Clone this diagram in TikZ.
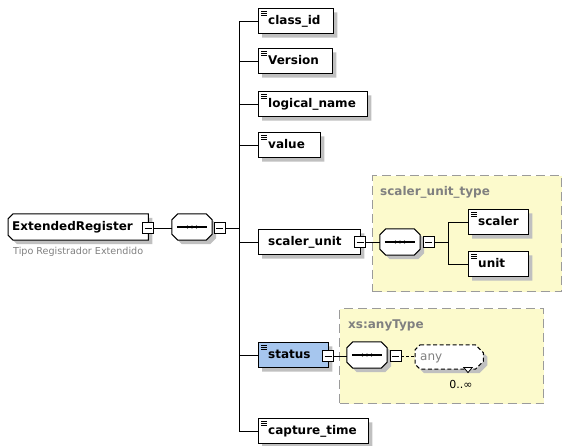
\documentclass[tikz,border=0pt]{standalone}
\usepackage{fontspec}
\setmainfont{DejaVu Sans}
\usetikzlibrary{shapes.geometric}

\definecolor{typefill}{RGB}{252,250,204}
\definecolor{typeline}{RGB}{155,155,155}
\definecolor{labelgray}{RGB}{128,128,128}
\definecolor{selfill}{RGB}{166,198,238}
\definecolor{shadowgray}{RGB}{192,192,192}

\pgfdeclarelayer{back}
\pgfdeclarelayer{frames}
\pgfsetlayers{back,frames,main}

% three short strokes in the top left corner of an element box
\newcommand{\elicon}[1]{%
  \foreach \dy in {3,5,7}
    \draw[line width=0.7pt] ([xshift=3pt,yshift=-\dy pt]#1.north west) -- ++(6pt,0);}
% the dotted bar inside a sequence compositor
\newcommand{\seqmark}[1]{%
  \draw[line width=1.1pt] ([xshift=5pt]#1.west) -- ([xshift=-5pt]#1.east);
  \foreach \dx in {-4.5,0,4.5}
    \fill ([xshift=\dx pt]#1.center) circle (1.6pt);}
% octagonal outline around node #1: left chamfer #2, right chamfer #3, moved by \ox,\oy
\def\ox{0pt}\def\oy{0pt}
\newcommand{\octpath}[3]{%
  ([xshift=\ox+#2,yshift=\oy]#1.north west) -- ([xshift=\ox-#3,yshift=\oy]#1.north east)
  -- ([xshift=\ox,yshift=\oy-#3]#1.north east) -- ([xshift=\ox,yshift=\oy+#3]#1.south east)
  -- ([xshift=\ox-#3,yshift=\oy]#1.south east) -- ([xshift=\ox+#2,yshift=\oy]#1.south west)
  -- ([xshift=\ox,yshift=\oy+#2]#1.south west) -- ([xshift=\ox,yshift=\oy-#2]#1.north west) -- cycle}
% shadowed frame for node #1 (style #2, chamfers #3 / #4)
\newcommand{\frameit}[4]{%
  \begin{pgfonlayer}{frames}
    \def\ox{4pt}\def\oy{-4pt}%
    \fill[shadowgray] \octpath{#1}{#3}{#4};
    \def\ox{0pt}\def\oy{0pt}%
    \path[#2] \octpath{#1}{#3}{#4};
  \end{pgfonlayer}}

\begin{document}
\begin{tikzpicture}[x=1pt,y=-1pt,line width=1pt,
  elem/.style={rectangle,anchor=west,minimum height=25pt,inner xsep=10pt,inner ysep=0pt,
    text height=9pt,text depth=3pt,font=\bfseries\fontsize{12}{14}\selectfont},
  box/.style={draw=black,fill=white,line width=1pt},
  selbox/.style={draw=black,fill=selfill,line width=1pt},
  anyframe/.style={draw=black,fill=white,line width=1pt,dash pattern=on 4pt off 2.5pt},
  seq/.style={rectangle,minimum width=40pt,minimum height=26pt,inner sep=0pt},
  minus/.style={rectangle,draw=black,fill=white,line width=0.9pt,minimum size=11pt,inner sep=0pt,
    path picture={\draw[line width=0.9pt] ([xshift=2pt]path picture bounding box.west)
      -- ([xshift=-2pt]path picture bounding box.east);}},
  typebox/.style={rectangle,draw=typeline,fill=typefill,dash pattern=on 9pt off 5pt,
    line width=1.2pt,anchor=north west,inner sep=0pt},
  typelabel/.style={anchor=west,inner sep=0pt,text=labelgray,font=\bfseries\fontsize{12}{14}\selectfont},
  conn/.style={draw=black,line width=1pt}
]
\useasboundingbox (0,0) rectangle (562,445);

% type boxes, behind everything
\begin{pgfonlayer}{back}
\node[typebox,minimum width=189pt,minimum height=116pt] (sutype) at (372,175) {};
\node[typebox,minimum width=204pt,minimum height=95pt] (anytype) at (339,308) {};
\end{pgfonlayer}
\node[typelabel] (sutypelbl) at (380,192) {scaler\_unit\_type};
\node[typelabel] (anytypelbl) at (348,325) {xs:anyType};

% root element
\node[elem,minimum width=140pt,minimum height=26pt,inner xsep=4pt,text width=132pt] (er) at (8,227) {ExtendedRegister};
\frameit{er}{box}{5pt}{0pt}
\node[minus] (erm) at (148,228) {};
\node[anchor=west,inner sep=0pt,text=labelgray,font=\fontsize{9.6}{11}\selectfont] (ertip) at (13,252) {Tipo Registrador Extendido};

% main sequence
\node[seq] (s1) at (192,227) {};
\frameit{s1}{box}{6pt}{6pt}
\seqmark{s1}
\node[minus] (s1m) at (219.5,228) {};
\coordinate (t1top) at (239,21);
\coordinate (t1bot) at (239,431);

% children of the sequence
\node[elem,minimum width=75pt,text width=55pt] (cid) at (258,21) {class\_id};
\node[elem,minimum width=74pt,text width=54pt] (ver) at (258,61) {Version};
\node[elem,minimum width=109pt,text width=89pt] (lname) at (258,104) {logical\_name};
\node[elem,minimum width=62pt,text width=42pt] (val) at (258,145) {value};
\node[elem,minimum width=102pt,text width=82pt] (su) at (258,242) {scaler\_unit};
\node[elem,minimum width=70pt,text width=50pt] (st) at (258,355) {status};
\node[elem,minimum width=110pt,text width=90pt] (ct) at (258,431) {capture\_time};
\foreach \n in {cid,ver,lname,val,su,ct} {\frameit{\n}{box}{0pt}{0pt}}
\frameit{st}{selbox}{0pt}{0pt}
\foreach \n in {cid,ver,lname,val,st,ct} {\elicon{\n}}
\node[minus] (sum) at (360,242) {};
\node[minus] (stm) at (328,356) {};

% scaler_unit content
\node[seq] (s2) at (400,242) {};
\frameit{s2}{box}{6pt}{6pt}
\seqmark{s2}
\node[minus] (s2m) at (428.5,242) {};
\coordinate (t2top) at (448,222);
\coordinate (t2bot) at (448,264);
\node[elem,minimum width=60pt,text width=40pt] (sc) at (468,222) {scaler};
\node[elem,minimum width=60pt,text width=40pt] (un) at (468,264) {unit};
\frameit{sc}{box}{0pt}{0pt}
\frameit{un}{box}{0pt}{0pt}
\elicon{sc}
\elicon{un}

% status content
\node[seq] (s3) at (367,355) {};
\frameit{s3}{box}{6pt}{6pt}
\seqmark{s3}
\node[minus] (s3m) at (395.5,356) {};
\node[elem,minimum width=68pt,minimum height=24pt,inner xsep=5pt,text width=58pt,
  text=labelgray,font=\fontsize{12}{14}\selectfont] (anyw) at (415,357) {any};
\frameit{anyw}{anyframe}{5pt}{8pt}
\node[draw=black,fill=white,line width=0.8pt,isosceles triangle,shape border rotate=-90,
  isosceles triangle apex angle=80,inner sep=0pt,minimum height=5pt,minimum width=8pt] (anytri) at (468,369.5) {};
\node[inner sep=0pt,font=\fontsize{11}{13}\selectfont] (occ) at (461,384) {0..∞};

% connectors
\draw[conn] (erm.east) -- (erm.east -| s1.west);
\draw[conn] (s1m.east) -- (s1m.east -| t1top);
\draw[conn] (t1top) -- (t1bot);
\foreach \n in {cid,ver,lname,val,su,st,ct}
  \draw[conn] (t1top |- \n.west) -- (\n.west);
\draw[conn] (sum.east) -- (s2.west);
\draw[conn] (s2m.east) -- (s2m.east -| t2top);
\draw[conn] (t2top) -- (t2bot);
\foreach \n in {sc,un}
  \draw[conn] (t2top |- \n.west) -- (\n.west);
\draw[conn] (stm.east) -- (stm.east -| s3.west);
\draw[conn,dash pattern=on 3pt off 2pt] (s3m.east) -- (s3m.east -| anyw.west);
\end{tikzpicture}
\end{document}
